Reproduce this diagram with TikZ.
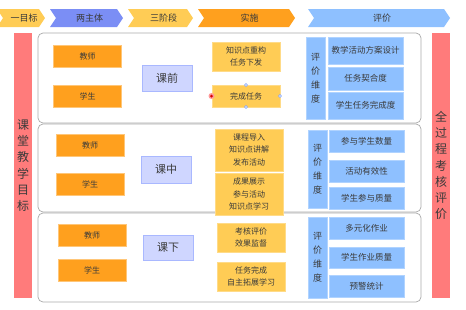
\documentclass[tikz,border=0pt]{standalone}
\usepackage{fontspec}
\setmainfont{Noto Sans CJK SC}
\definecolor{cyel}{HTML}{FFCC55}
\definecolor{corg}{HTML}{FFA01E}
\definecolor{cblu}{HTML}{8EC0FF}
\definecolor{cper}{HTML}{7B8EF5}
\definecolor{clav}{HTML}{CFD6FF}
\definecolor{clavb}{HTML}{A9B8FF}
\definecolor{cred}{HTML}{FF7B7B}
\definecolor{ctxt}{HTML}{3A3A3A}
\definecolor{cfrm}{HTML}{AAAAAA}
\begin{document}
\begin{tikzpicture}[x=1pt,y=-1pt,
  every node/.style={text=ctxt,inner sep=0pt,align=center},
  chev/.style={draw=none},
  frame/.style={draw=cfrm,line width=0.7pt,rounded corners=5pt,fill=white},
  person/.style={fill=corg,draw=corg!60!white,line width=0.4pt,minimum width=68pt,minimum height=22pt,font=\fontsize{8}{10}\selectfont},
  impl/.style={fill=cyel,draw=cyel!70!white,line width=0.4pt,minimum width=68pt,font=\fontsize{8}{12.5}\selectfont},
  phase/.style={fill=clav,draw=clavb,line width=0.6pt,minimum width=50pt,font=\fontsize{11}{13}\selectfont},
  evald/.style={fill=cblu,draw=cblu!70!white,line width=0.4pt,minimum width=19pt,font=\fontsize{9}{14}\selectfont},
  crit/.style={fill=cblu,draw=cblu!70!white,line width=0.4pt,minimum width=75pt,font=\fontsize{8.5}{10}\selectfont},
  bar/.style={fill=cred,draw=none,minimum width=18pt,minimum height=265pt,font=\fontsize{12}{16.3}\selectfont},
  hdl/.style={draw=cblu!80!blue,fill=white,line width=0.5pt,circle,minimum size=3pt}
]
\useasboundingbox (0,0) rectangle (466,309);
% header chevrons
\newcommand\mychev[5]{%
  \fill[#3] (#1,9) -- (#2-6,9) -- (#2,18) -- (#2-6,27) -- (#1,27) -- (#1+6,18) -- cycle;
  \node[font=\fontsize{9}{10}\selectfont] (#5) at ({(#1+#2)/2+3},18) {#4};}
\mychev{-3}{45}{cyel}{一目标}{h1}
\mychev{50}{123}{cper}{两主体}{h2}
\mychev{128}{193}{cyel}{三阶段}{h3}
\mychev{198}{295}{corg}{实施}{h4}
\mychev{308}{450}{cblu}{评价}{h5}
% side bars
\node[bar] (lbar) at (23,165.5) {课\\堂\\教\\学\\目\\标};
\node[bar] (rbar) at (441,165.5) {全\\过\\程\\考\\核\\评\\价};
% frames
\draw[frame] (38,33) rectangle (421,123);
\draw[frame] (38,124) rectangle (421,212);
\draw[frame] (38,213) rectangle (421,302);
% row 1
\node[person] (t1) at (87.5,56) {教师};
\node[person] (s1) at (87.5,96) {学生};
\node[phase,minimum height=26pt] (p1) at (167,78) {课前};
\node[impl,minimum height=29pt] (a1) at (246,56.5) {知识点重构\\任务下发};
\node[impl,minimum height=22pt] (b1) at (246,96) {完成任务};
\node[evald,minimum height=82pt] (e1) at (315.5,78) {评\\价\\维\\度};
\node[crit,minimum height=27pt] (c11) at (365.5,50.5) {教学活动方案设计};
\node[crit,minimum height=23pt] (c12) at (365.5,78.5) {任务契合度};
\node[crit,minimum height=27pt] (c13) at (365.5,105.5) {学生任务完成度};
% selection marks
\node[circle,fill=red!40!white,minimum size=6pt] (sel0) at (211.5,96) {};
\node[circle,fill=red!85!black,minimum size=3pt] (sel1) at (211.5,96) {};
\node[hdl] (sel2) at (246,85) {};
\node[hdl] (sel3) at (246,107) {};
\node[hdl] (sel4) at (280,96) {};
% row 2
\node[person] (t2) at (90,145) {教师};
\node[person] (s2) at (90,184) {学生};
\node[phase,minimum height=27pt] (p2) at (166,169.5) {课中};
\node[impl,minimum height=42pt] (a2) at (249,150) {课程导入\\知识点讲解\\发布活动};
\node[impl,minimum height=42pt] (b2) at (249,194) {成果展示\\参与活动\\知识点学习};
\node[evald,minimum height=78pt] (e2) at (317.5,169) {评\\价\\维\\度};
\node[crit,minimum height=22pt] (c21) at (366.5,141) {参与学生数量};
\node[crit,minimum height=22pt] (c22) at (366.5,171) {活动有效性};
\node[crit,minimum height=22pt] (c23) at (366.5,198) {学生参与质量};
% row 3
\node[person] (t3) at (92,235) {教师};
\node[person] (s3) at (92,270) {学生};
\node[phase,minimum height=25pt] (p3) at (168,247.5) {课下};
\node[impl,minimum height=29pt] (a3) at (251,237.5) {考核评价\\效果监督};
\node[impl,minimum height=29pt] (b3) at (251,276.5) {任务完成\\自主拓展学习};
\node[evald,minimum height=81pt] (e3) at (317.5,257.5) {评\\价\\维\\度};
\node[crit,minimum height=22pt] (c31) at (366.5,228) {多元化作业};
\node[crit,minimum height=21pt] (c32) at (366.5,257.5) {学生作业质量};
\node[crit,minimum height=22pt] (c33) at (366.5,286) {预警统计};
\end{tikzpicture}
\end{document}
